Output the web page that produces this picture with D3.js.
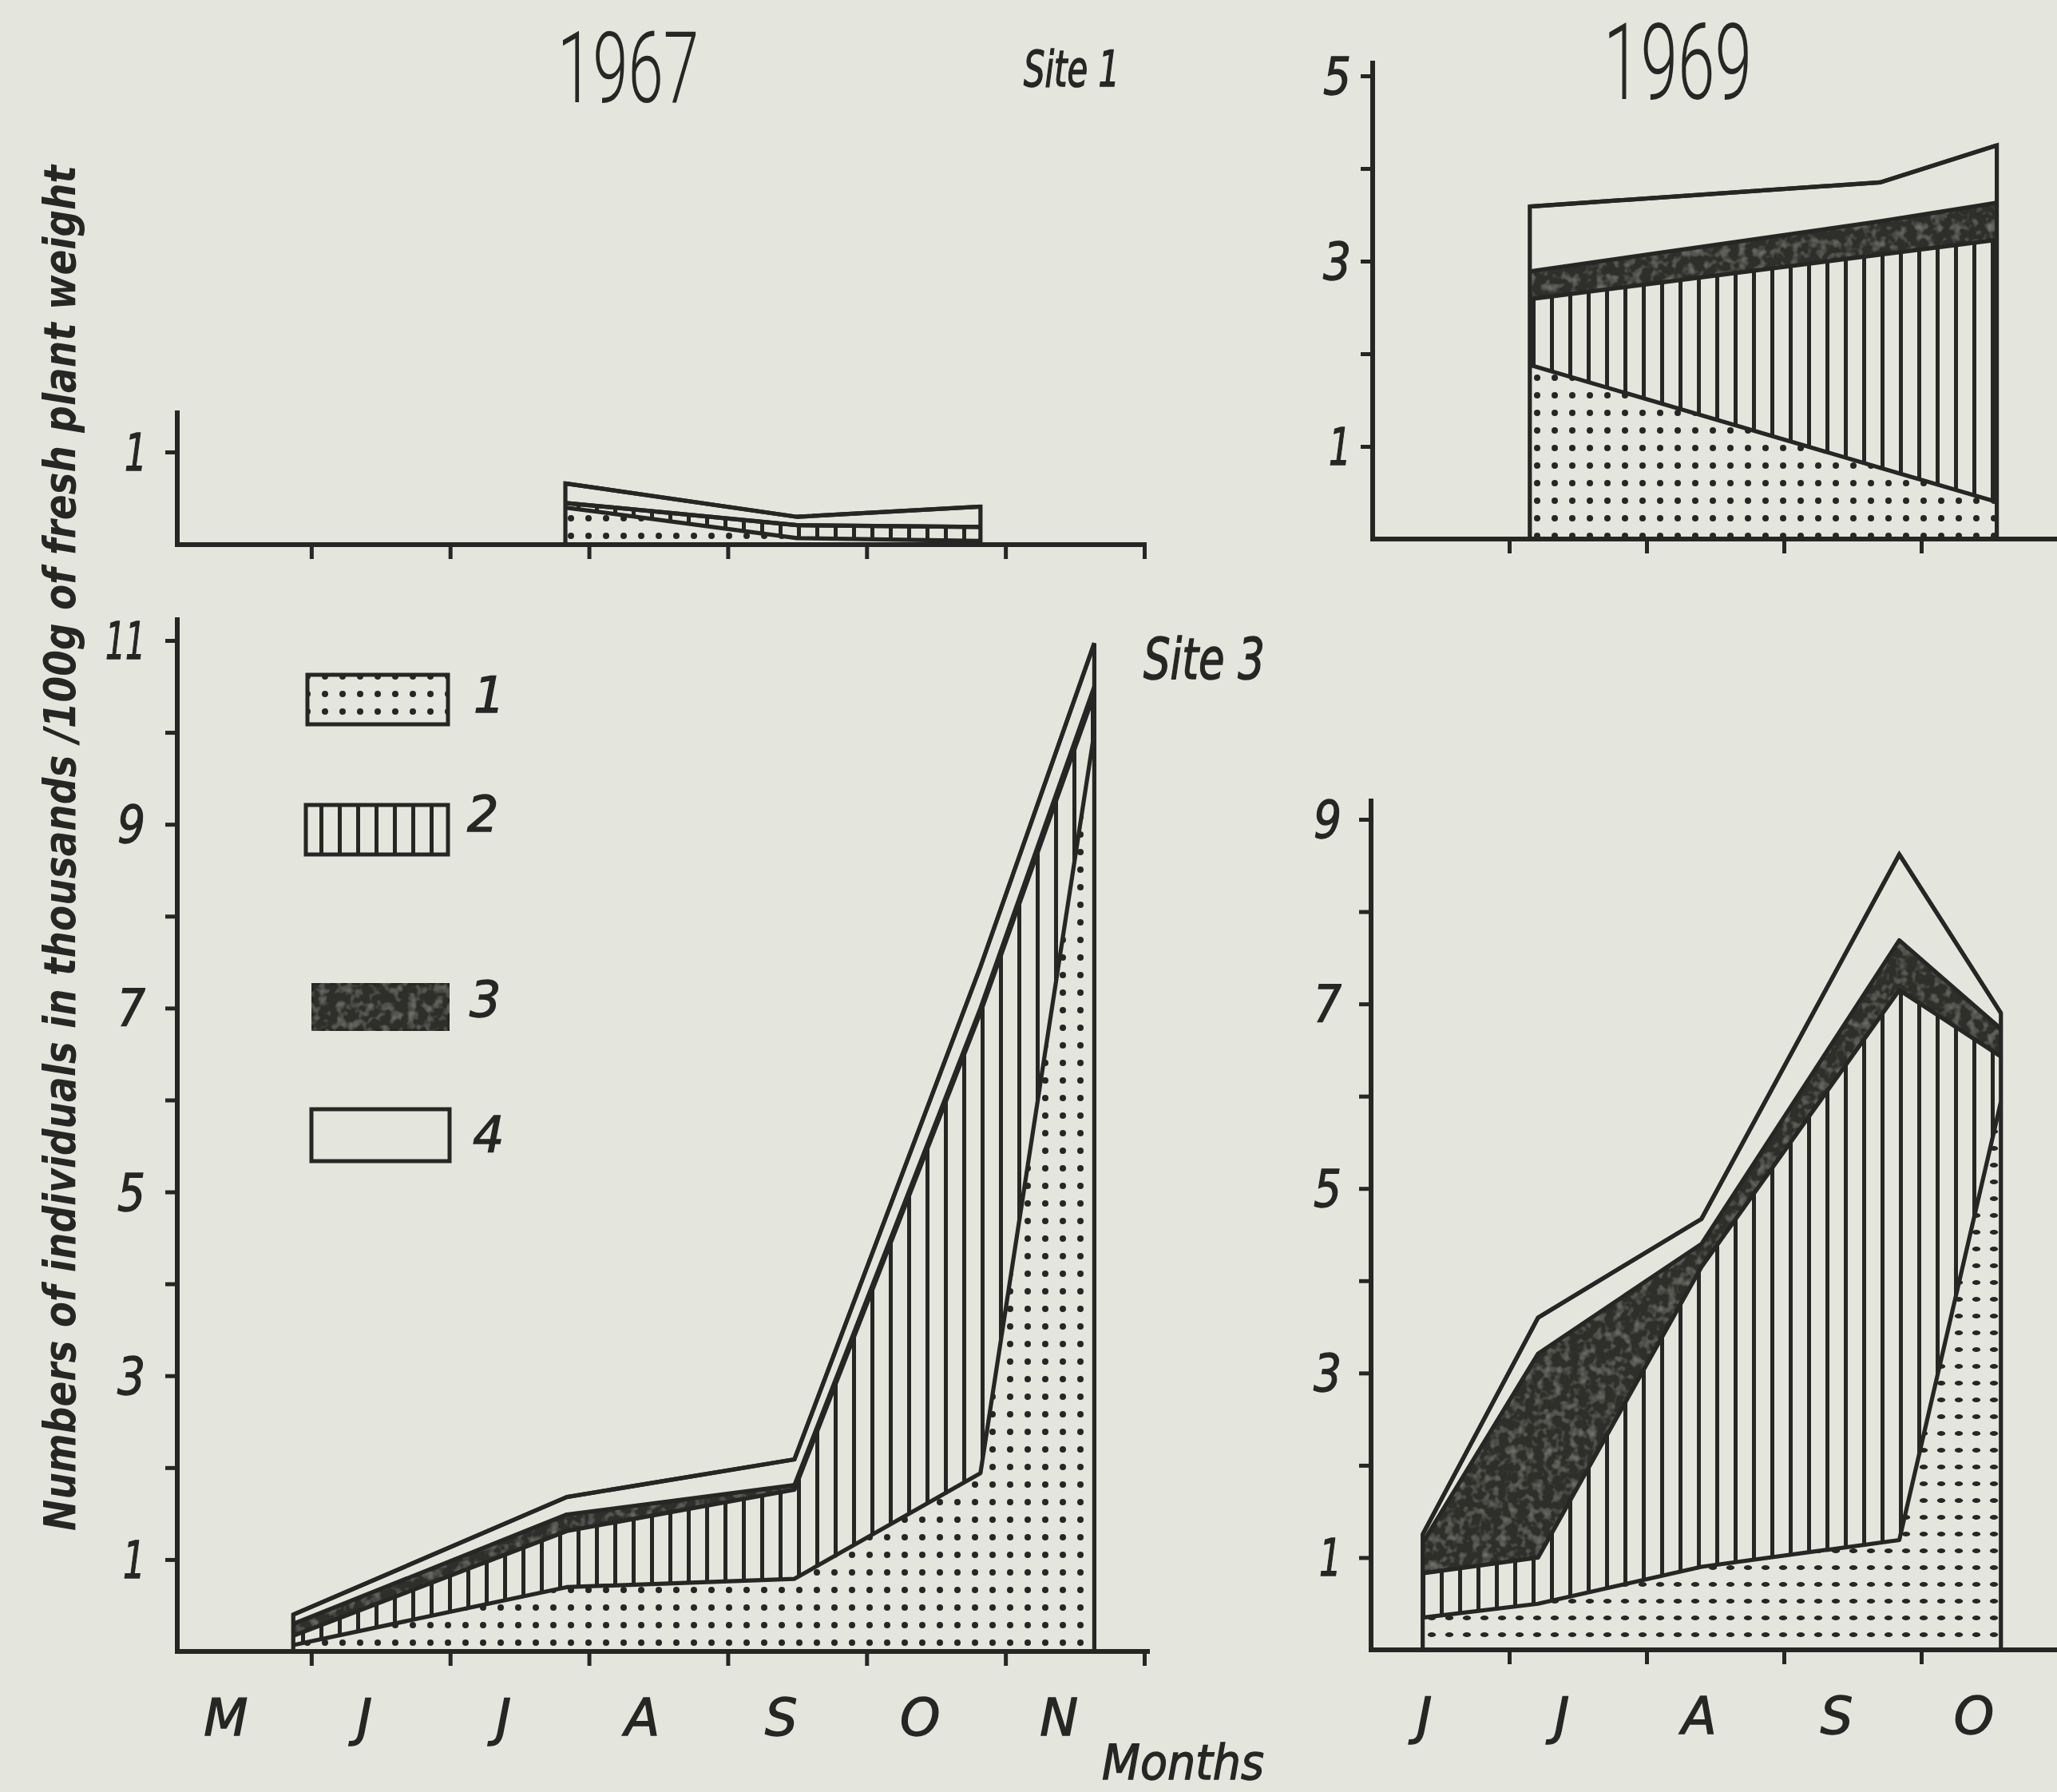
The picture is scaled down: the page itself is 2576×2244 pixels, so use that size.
<!DOCTYPE html>
<html><head><meta charset="utf-8">
<script src="https://cdn.jsdelivr.net/npm/d3@7"></script>
<style>
html,body{margin:0;padding:0;background:#e4e6de;}
svg{display:block;}
</style></head><body>
<svg id="c" width="2576" height="2244"></svg>
<script>
// ---------------- DATA ----------------
const groupKeys = ["g1","g2","g3","g4"];
const legendLabels = ["1","2","3","4"];
const monthsLeft = ["M","J","J","A","S","O","N"];
const monthsRight = ["J","J","A","S","O"];

// Site 1, 1967 (time in months from start of May)
const s1_1967_dates = [2.83, 4.50, 5.82];
const s1_1967_g1 = [0.40, 0.07, 0.04];
const s1_1967_g2 = [0.05, 0.14, 0.15];
const s1_1967_g3 = [0.00, 0.00, 0.00];
const s1_1967_g4 = [0.21, 0.09, 0.22];

// Site 1, 1969 (time in months from start of June)
const s1_1969_dates = [1.15, 3.70, 4.55];
const s1_1969_g1 = [1.88, 0.77, 0.40];
const s1_1969_g2 = [0.71, 2.30, 2.83];
const s1_1969_g3 = [0.30, 0.36, 0.40];
const s1_1969_g4 = [0.70, 0.42, 0.62];

// Site 3, 1967
const s3_1967_dates = [0.87, 2.84, 4.48, 5.82, 6.64];
const s3_1967_g1 = [0.07, 0.70, 0.79, 1.94, 10.00];
const s3_1967_g2 = [0.10, 0.61, 0.97, 5.01, 0.42];
const s3_1967_g3 = [0.13, 0.18, 0.05, 0.05, 0.08];
const s3_1967_g4 = [0.10, 0.19, 0.28, 0.45, 0.47];

// Site 3, 1969
const s3_1969_dates = [0.37, 1.21, 2.40, 3.84, 4.58];
const s3_1969_g1 = [0.35, 0.50, 0.90, 1.19, 5.94];
const s3_1969_g2 = [0.48, 0.50, 3.25, 5.96, 0.49];
const s3_1969_g3 = [0.33, 2.21, 0.25, 0.54, 0.30];
const s3_1969_g4 = [0.09, 0.39, 0.27, 0.93, 0.17];

// y tick values / labels
const s1_1967_yTicks = [1];
const s1_1969_yTicks = [1,2,3,4,5];
const s3_1967_yTicks = [1,2,3,4,5,6,7,8,9,10,11];
const s3_1969_yTicks = [1,2,3,4,5,6,7,8,9];
const oddLabels = v => v % 2 === 1;

// ---------------- STYLE / LAYOUT ----------------
const INK = "#262624";
const PAPER = "#e4e6de";
const svg = d3.select("#c");
svg.append("rect").attr("width",2576).attr("height",2244).attr("fill",PAPER);

const defs = svg.append("defs");
// dots
const pd = defs.append("pattern").attr("id","dots").attr("patternUnits","userSpaceOnUse")
  .attr("width",22).attr("height",22);
pd.append("rect").attr("width",22).attr("height",22).attr("fill",PAPER);
pd.append("circle").attr("cx",11).attr("cy",11).attr("r",4).attr("fill",INK);
// dashes (dots drawn as short strokes)
const pdd = defs.append("pattern").attr("id","dash").attr("patternUnits","userSpaceOnUse")
  .attr("width",22).attr("height",21);
pdd.append("rect").attr("width",22).attr("height",21).attr("fill",PAPER);
pdd.append("ellipse").attr("cx",11).attr("cy",10).attr("rx",5.2).attr("ry",3).attr("fill",INK);
// vertical lines
const pv = defs.append("pattern").attr("id","vlines").attr("patternUnits","userSpaceOnUse")
  .attr("width",23).attr("height",40);
pv.append("rect").attr("width",23).attr("height",40).attr("fill",PAPER);
pv.append("rect").attr("x",9).attr("y",0).attr("width",5).attr("height",40).attr("fill",INK);
// grain for dark fill
const f = defs.append("filter").attr("id","grain").attr("x","0").attr("y","0").attr("width","1").attr("height","1");
f.append("feTurbulence").attr("type","fractalNoise").attr("baseFrequency","0.09").attr("numOctaves",2).attr("seed",4).attr("result","n");
f.append("feColorMatrix").attr("in","n").attr("type","matrix")
  .attr("values","0 0 0 0 0.40  0 0 0 0 0.40  0 0 0 0 0.37  0 0 0 0.9 -0.42").attr("result","a");
f.append("feComposite").attr("in","a").attr("in2","SourceGraphic").attr("operator","in").attr("result","t");
const fm = f.append("feMerge");
fm.append("feMergeNode").attr("in","SourceGraphic");
fm.append("feMergeNode").attr("in","t");

const DARK = "#2e2e2b";

function fillFor(k, dotStyle){
  if(k==="g1") return dotStyle==="dash" ? "url(#dash)" : "url(#dots)";
  if(k==="g2") return "url(#vlines)";
  if(k==="g3") return DARK;
  return PAPER;
}

const panels = [
  {dates:s1_1967_dates, g:[s1_1967_g1,s1_1967_g2,s1_1967_g3,s1_1967_g4],
   xDom:[0,7], xRange:[216,1433], yDom:[0,1], yRange:[682,566],
   axisX:222, axisTop:514, xEnd:1436, xTicks:[1,2,3,4,5,6,7], yTicks:s1_1967_yTicks,
   labelGap:38, months:null, dot:"dots"},
  {dates:s1_1969_dates, g:[s1_1969_g1,s1_1969_g2,s1_1969_g3,s1_1969_g4],
   xDom:[0,5], xRange:[1718,2578], yDom:[0,5], yRange:[675,95],
   axisX:1719, axisTop:76, xEnd:2576, xTicks:[1,2,3,4], yTicks:s1_1969_yTicks,
   labelGap:27, months:null, dot:"dots"},
  {dates:s3_1967_dates, g:[s3_1967_g1,s3_1967_g2,s3_1967_g3,s3_1967_g4],
   xDom:[0,7], xRange:[216,1433], yDom:[0,11], yRange:[2068,802],
   axisX:222, axisTop:773, xEnd:1440, xTicks:[1,2,3,4,5,6,7], yTicks:s3_1967_yTicks,
   labelGap:40, months:monthsLeft, monthY:2173, dot:"dots"},
  {dates:s3_1969_dates, g:[s3_1969_g1,s3_1969_g2,s3_1969_g3,s3_1969_g4],
   xDom:[0,5], xRange:[1718,2578], yDom:[0,9], yRange:[2066,1026],
   axisX:1717, axisTop:1000, xEnd:2576, xTicks:[1,2,3,4], yTicks:s3_1969_yTicks,
   labelGap:37, months:monthsRight, monthY:2171, dot:"dash"}
];

const numFont = "'DejaVu Sans', sans-serif";
const LW = 5.2;

panels.forEach(p=>{
  const x = d3.scaleLinear().domain(p.xDom).range(p.xRange);
  const y = d3.scaleLinear().domain(p.yDom).range(p.yRange);
  const rows = p.dates.map((t,i)=>({t, g1:p.g[0][i], g2:p.g[1][i], g3:p.g[2][i], g4:p.g[3][i]}));
  const series = d3.stack().keys(groupKeys)(rows);
  const area = d3.area().x(d=>x(d.data.t)).y0(d=>y(d[0])).y1(d=>y(d[1]));
  const line = d3.line().x(d=>x(d.data.t)).y(d=>y(d[1]));
  const G = svg.append("g");

  series.forEach(s=>{
    const path = G.append("path").attr("d",area(s)).attr("fill",fillFor(s.key,p.dot)).attr("stroke","none");
    if(s.key==="g3") path.attr("filter","url(#grain)");
  });
  series.forEach(s=>{
    G.append("path").attr("d",line(s)).attr("fill","none").attr("stroke",INK)
      .attr("stroke-width",LW).attr("stroke-linejoin","round");
  });
  // outer outline (vertical edges)
  const top = series[series.length-1];
  const outline = d3.area().x(d=>x(d.data.t)).y0(()=>y(0)).y1(d=>y(d[1]));
  G.append("path").attr("d",outline(top)).attr("fill","none").attr("stroke",INK)
    .attr("stroke-width",LW).attr("stroke-linejoin","miter");

  // axes lines
  G.append("line").attr("x1",p.axisX).attr("x2",p.xEnd).attr("y1",y(0)).attr("y2",y(0))
    .attr("stroke",INK).attr("stroke-width",6);
  G.append("line").attr("x1",p.axisX).attr("x2",p.axisX).attr("y1",p.axisTop).attr("y2",y(0)+3)
    .attr("stroke",INK).attr("stroke-width",6);

  // x ticks (month boundaries)
  const xa = G.append("g").attr("transform",`translate(0,${y(0)})`)
    .call(d3.axisBottom(x).tickValues(p.xTicks).tickSize(18).tickFormat(""));
  xa.select(".domain").remove();
  xa.selectAll("line").attr("stroke",INK).attr("stroke-width",5);

  // y ticks
  const ya = G.append("g").attr("transform",`translate(${p.axisX},0)`)
    .call(d3.axisLeft(y).tickValues(p.yTicks).tickSize(15).tickFormat(""));
  ya.select(".domain").remove();
  ya.selectAll("line").attr("stroke",INK).attr("stroke-width",5).attr("x2",-15);
  // y labels
  G.selectAll(null).data(p.yTicks.filter(oddLabels)).enter().append("text")
    .attr("x",p.axisX-p.labelGap).attr("y",d=>y(d)).attr("dy","0.36em")
    .attr("text-anchor","end").attr("font-family",numFont).attr("font-style","italic")
    .attr("font-size",64).attr("fill",INK).attr("stroke",INK).attr("stroke-width",1.4)
    .attr("textLength",d=>d>=10 ? 50 : (d===1 ? 28 : 35)).attr("lengthAdjust","spacingAndGlyphs")
    .text(d=>d);

  // month labels
  if(p.months){
    G.selectAll(null).data(p.months).enter().append("text")
      .attr("x",(d,i)=>x(i+0.5)-20).attr("y",p.monthY)
      .attr("text-anchor","middle").attr("font-family",numFont).attr("font-style","italic")
      .attr("font-size",64).attr("fill",INK).attr("stroke",INK).attr("stroke-width",1.4)
      .text(d=>d);
  }
});

// ---------------- TEXT ----------------
function txt(s, x, yb, size, opts={}){
  const t = svg.append("text").attr("x",x).attr("y",yb).attr("font-size",size)
    .attr("font-family",opts.family || numFont).attr("fill",INK).text(s);
  if(opts.italic) t.attr("font-style","italic");
  if(opts.weight) t.attr("font-weight",opts.weight);
  if(opts.len) t.attr("textLength",opts.len).attr("lengthAdjust","spacingAndGlyphs");
  if(opts.anchor) t.attr("text-anchor",opts.anchor);
  if(opts.transform) t.attr("transform",opts.transform);
  if(opts.sw) t.attr("stroke",INK).attr("stroke-width",opts.sw);
  return t;
}
txt("1967", 698, 128, 124, {family:"Roboto, 'DejaVu Sans', sans-serif", weight:300, len:177});
txt("1969", 2008, 124, 134, {family:"Roboto, 'DejaVu Sans', sans-serif", weight:300, len:186});
txt("Site 1", 1282, 108, 62, {italic:true, len:120, sw:1.6});
txt("Site 3", 1432, 850, 72, {italic:true, len:152, sw:1.6});
txt("Months", 1380, 2228, 60, {italic:true, len:203, sw:1.4});

// rotated y title, compressed horizontally to the reference length
const yTitle = txt("Numbers of individuals in thousands /100g of fresh plant weight", 0, 0, 56,
    {italic:true, weight:"bold", anchor:"middle"});
const natural = yTitle.node().getComputedTextLength();
const sx = 1710 / natural;
yTitle.attr("transform",`translate(94,1062) rotate(-90) scale(${sx},1)`);

// ---------------- LEGEND ----------------
const legendBoxes = [
  {x:385, y:845, w:176, h:62, lx:593, ly:892},
  {x:383, y:1008, w:178, h:62, lx:585, ly:1041},
  {x:390, y:1231, w:173, h:60, lx:588, ly:1273},
  {x:390, y:1389, w:173, h:65, lx:592, ly:1443}
];
legendBoxes.forEach((b,i)=>{
  const k = groupKeys[i];
  const r = svg.append("rect").attr("x",b.x).attr("y",b.y).attr("width",b.w).attr("height",b.h)
    .attr("fill",fillFor(k,"dots")).attr("stroke",INK).attr("stroke-width",5);
  if(k==="g3") r.attr("filter","url(#grain)");
  txt(legendLabels[i], b.lx, b.ly, 62, {italic:true, sw:1.4});
});
</script>
</body></html>
